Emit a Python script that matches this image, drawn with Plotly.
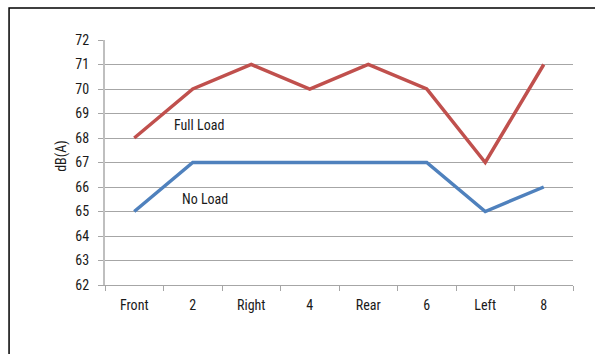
import plotly.graph_objects as go

positions = ['Front', '2', 'Right', '4', 'Rear', '6', 'Left', '8']
full_load = [68, 70, 71, 70, 71, 70, 67, 71]
no_load = [65, 67, 67, 67, 67, 67, 65, 66]
y_ticks = list(range(62, 73))

FONT = 'Roboto Condensed, Liberation Sans Narrow, sans-serif'

fig = go.Figure()

fig.add_trace(go.Scatter(
    x=positions, y=full_load, mode='lines',
    line=dict(color='#c0504d', width=3.5),
))
fig.add_trace(go.Scatter(
    x=positions, y=no_load, mode='lines',
    line=dict(color='#4f81bd', width=3.5),
))

fig.update_layout(
    width=595,
    height=354,
    margin=dict(l=105, r=22, t=40, b=69),
    paper_bgcolor='white',
    plot_bgcolor='white',
    showlegend=False,
    font=dict(family=FONT, size=14, color='#1a1a1a'),
    xaxis=dict(
        type='category',
        tickson='boundaries',
        ticks='outside',
        ticklen=5,
        tickcolor='#a6a6a6',
        ticklabelstandoff=7,
        showgrid=False,
        showline=True,
        linecolor='#a6a6a6',
        linewidth=1,
        range=[-0.5, 7.5],
        automargin=False,
    ),
    yaxis=dict(
        range=[62, 72],
        tickvals=y_ticks,
        ticks='outside',
        ticklen=5,
        tickcolor='#a6a6a6',
        ticklabelstandoff=6,
        showgrid=True,
        gridcolor='#a6a6a6',
        gridwidth=1,
        showline=True,
        linecolor='#bfbfbf',
        linewidth=2,
        zeroline=False,
        automargin=False,
    ),
)

# Axis title
fig.add_annotation(x=-0.092, y=0.527, xref='paper', yref='paper',
                   xanchor='center', yanchor='middle',
                   text='dB(A)', textangle=-90, showarrow=False)

# Series labels
fig.add_annotation(x=0.201, y=0.653, xref='paper', yref='paper',
                   xanchor='center', yanchor='middle',
                   text='Full Load', showarrow=False)
fig.add_annotation(x=0.214, y=0.349, xref='paper', yref='paper',
                   xanchor='center', yanchor='middle',
                   text='No Load', showarrow=False)

# Outer frame (cropped on the right and bottom)
fig.add_shape(type='rect', xref='paper', yref='paper',
              x0=-0.205, x1=1.5, y0=-0.6, y1=1.1306,
              line=dict(color='#000000', width=1.5), layer='below')

fig.write_html('out.html', post_script="document.body.style.margin='0';",
               config={'displayModeBar': False})
